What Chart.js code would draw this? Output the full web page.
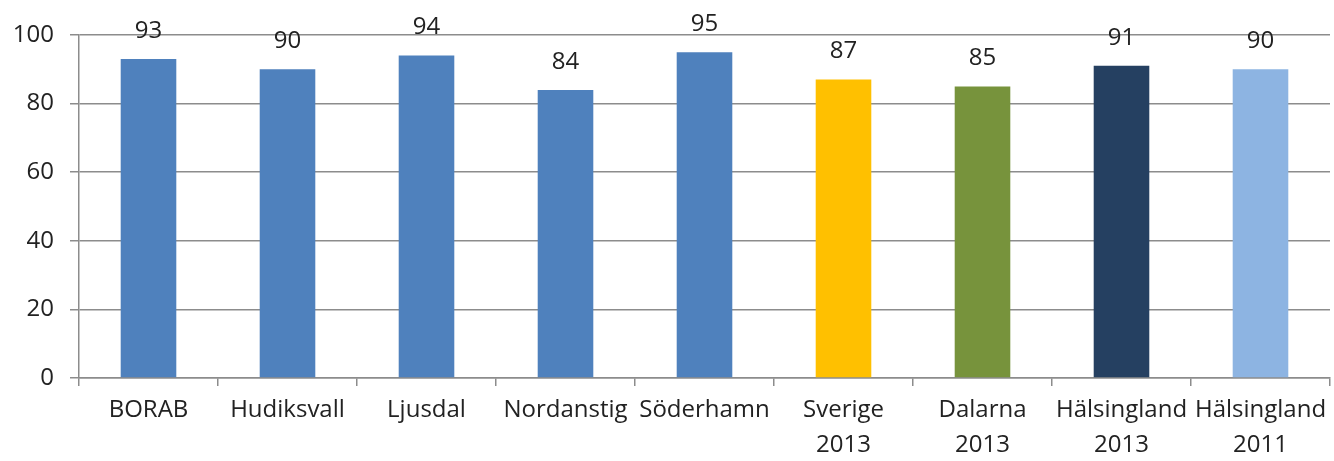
<!DOCTYPE html>
<html>
<head>
<meta charset="utf-8">
<script src="https://cdn.jsdelivr.net/npm/chart.js@4/dist/chart.umd.min.js"></script>
<style>
  body { margin: 0; background: #fff; }
</style>
</head>
<body>
<canvas id="chart" width="1334" height="461"></canvas>
<script>
// Kategorier och värden
const kategorier = [
    'BORAB', 'Hudiksvall', 'Ljusdal', 'Nordanstig', 'Söderhamn',
    ['Sverige', '2013'], ['Dalarna', '2013'], ['Hälsingland', '2013'], ['Hälsingland', '2011']
];
const varden = [93, 90, 94, 84, 95, 87, 85, 91, 90];
const farger = ['#4F81BD', '#4F81BD', '#4F81BD', '#4F81BD', '#4F81BD', '#FFC000', '#77933C', '#254061', '#8DB4E2'];
const yTicks = [0, 20, 40, 60, 80, 100];

const fontFamily = '"Open Sans", "Noto Sans", sans-serif';

// Värdeetiketter ovanför staplarna
const etikettPlugin = {
    id: 'etiketter',
    afterDatasetsDraw(chart) {
        const ctx = chart.ctx;
        const meta = chart.getDatasetMeta(0);
        ctx.save();
        ctx.font = '24px ' + fontFamily;
        ctx.fillStyle = '#222';
        ctx.textAlign = 'center';
        ctx.textBaseline = 'middle';
        meta.data.forEach((bar, i) => {
            ctx.fillText(String(varden[i]), bar.x, bar.y - 28);
        });
        ctx.restore();
    }
};

new Chart(document.getElementById('chart').getContext('2d'), {
    type: 'bar',
    data: {
        labels: kategorier,
        datasets: [{
            data: varden,
            backgroundColor: farger,
            borderWidth: 0,
            barPercentage: 0.4,
            categoryPercentage: 1
        }]
    },
    options: {
        responsive: false,
        animation: false,
        layout: { padding: { top: 35, right: 4, left: 0, bottom: 0 } },
        plugins: { legend: { display: false }, tooltip: { enabled: false } },
        scales: {
            x: {
                grid: { drawOnChartArea: false, offset: true, tickLength: 8, color: '#8c8c8c', lineWidth: 1.5 },
                border: { display: true, color: '#8c8c8c', width: 1.5 },
                ticks: {
                    color: '#222',
                    font: { family: fontFamily, size: 24, lineHeight: 1.45 },
                    padding: 7,
                    maxRotation: 0,
                    autoSkip: false
                },
                afterFit(scale) { scale.height = 83; }
            },
            y: {
                min: 0,
                max: 100,
                afterBuildTicks(scale) { scale.ticks = yTicks.map(v => ({ value: v })); },
                grid: { color: '#8c8c8c', lineWidth: 1.5, tickLength: 9 },
                border: { display: true, color: '#8c8c8c', width: 1.5 },
                ticks: {
                    color: '#222',
                    font: { family: fontFamily, size: 24 },
                    padding: 16
                },
                afterFit(scale) { scale.width = 79; }
            }
        }
    },
    plugins: [etikettPlugin]
});
</script>
</body>
</html>
